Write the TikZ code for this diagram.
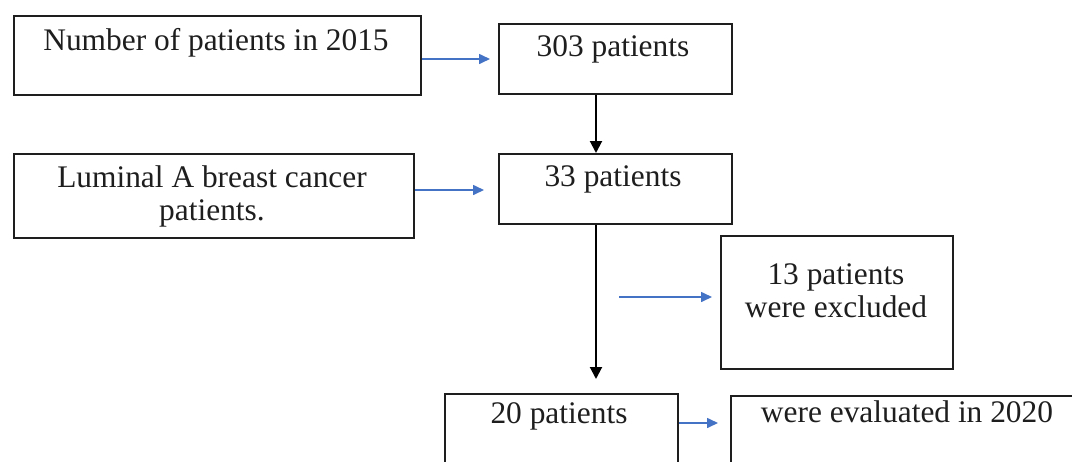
\documentclass[tikz,border=0pt]{standalone}
\usepackage{fontspec}
\setmainfont{Liberation Serif}
\usetikzlibrary{arrows.meta}
\definecolor{arrowblue}{HTML}{4472C4}
\definecolor{inkgray}{HTML}{1E1E1E}
\tikzset{
  box/.style={draw=inkgray, line width=1pt, anchor=north west, inner sep=0pt, fill=white},
  txt/.style={text=inkgray, font=\fontsize{15.7}{16.5}\selectfont, align=center, inner sep=0pt},
  bluearrow/.style={draw=arrowblue, line width=0.8pt, -{Triangle[length=5.5pt,width=5pt]}},
  blackarrow/.style={draw=black, line width=1pt, -{Triangle[length=6pt,width=6pt]}}
}
\begin{document}
\begin{tikzpicture}[x=0.5pt,y=-0.5pt]
\useasboundingbox (0,0) rectangle (1072,461);
\clip (0,0) rectangle (1072,461);
% boxes
\node[box, minimum width=203.5pt, minimum height=39.5pt] (b1) at (13,15) {};
\node[box, minimum width=116.5pt, minimum height=35pt] (b2) at (498,23) {};
\node[box, minimum width=200pt, minimum height=42pt] (b3) at (13,153) {};
\node[box, minimum width=116.5pt, minimum height=35pt] (b4) at (498,153) {};
\node[box, minimum width=116pt, minimum height=66.5pt] (b5) at (720,235) {};
\node[box, minimum width=116.5pt, minimum height=40pt] (b6) at (444,393) {};
\node[box, minimum width=180pt, minimum height=40pt] (b7) at (730,395) {};
% texts
\node[txt] (t1) at (216,43) {Number of patients in 2015};
\node[txt] (t2) at (613,49) {303 patients};
\node[txt] (t3) at (212,196) {Luminal A breast cancer\\patients.};
\node[txt] (t4) at (613,179) {33 patients};
\node[txt] (t5) at (836,291) {13 patients\\were excluded};
\node[txt] (t6) at (559,416) {20 patients};
\node[txt] (t7) at (907,412) {were evaluated in 2020};
% helper coordinates
\coordinate (v) at (596,0);
\coordinate (a1) at (0,59);
\coordinate (a2) at (0,190);
\coordinate (a5) at (619,297);
\coordinate (a6) at (0,423);
% connectors
\draw[bluearrow, shorten >=4pt] (b1.east |- a1) -- (b2.west |- a1);
\draw[bluearrow, shorten >=7pt] (b3.east |- a2) -- (b4.west |- a2);
\draw[blackarrow] (b2.south -| v) -- (b4.north -| v);
\draw[blackarrow, shorten >=7pt] (b4.south -| v) -- (b6.north -| v);
\draw[bluearrow, shorten >=4pt] (a5) -- (a5 -| b5.west);
\draw[bluearrow, shorten >=6pt] (b6.east |- a6) -- (b7.west |- a6);
\end{tikzpicture}
\end{document}
